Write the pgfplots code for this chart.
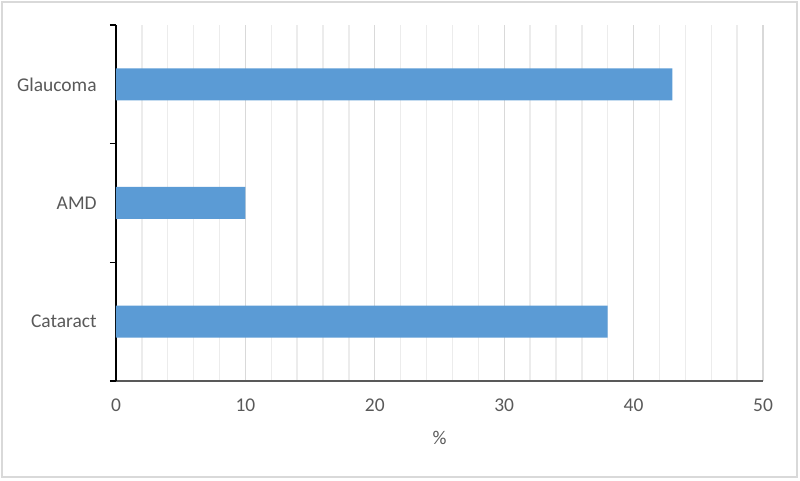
\documentclass[border=0pt]{standalone}
\usepackage{fontspec}
\setmainfont{Carlito}
\usepackage{pgfplots}
\pgfplotsset{compat=1.18}
\definecolor{barblue}{RGB}{91,155,213}
\definecolor{txtgray}{RGB}{89,89,89}
\definecolor{majgrid}{RGB}{217,217,217}
\definecolor{mingrid}{RGB}{236,236,236}
\definecolor{framegray}{RGB}{217,217,217}
\begin{document}
\begin{tikzpicture}
\useasboundingbox (0pt,0pt) rectangle (600pt,360.75pt);
\draw[framegray,line width=1.2pt] (1.5pt,3pt) rectangle (597.75pt,359.25pt);
\begin{axis}[
  at={(87pt,75pt)}, anchor=south west,
  scale only axis,
  width=485.25pt, height=267pt,
  xmin=0, xmax=50, ymin=-0.5, ymax=2.5,
  axis lines*=left,
  x axis line style={-, draw=black!65, line width=1.2pt},
  y axis line style={-, draw=black, line width=1.3pt},
  xtick={0,10,20,30,40,50},
  minor x tick num=4,
  xmajorgrids, xminorgrids,
  major grid style={majgrid, line width=1pt},
  minor grid style={mingrid, line width=1pt},
  x tick style={draw=none},
  ytick={-0.5,0.5,1.5,2.5},
  yticklabels={},
  y tick style={draw=black, line width=1pt},
  ytick align=outside,
  major tick length=4.5pt,
  extra y ticks={0,1,2},
  extra y tick labels={Cataract,AMD,Glaucoma},
  extra y tick style={major tick length=0pt, ytick align=inside, grid=none},
  tick label style={font=\fontsize{14.6}{17}\selectfont, text=txtgray},
  /pgf/number format/assume math mode=true,
  xticklabel style={yshift=-10pt},
  yticklabel style={xshift=-11pt},
  xlabel={\%},
  xlabel style={font=\fontsize{14.6}{17}\selectfont, text=txtgray, yshift=-8pt},
  clip=false,
]
\addplot[xbar, bar width=24pt, fill=barblue, draw=none] coordinates {(38,0) (10,1) (43,2)};
\end{axis}
\end{tikzpicture}
\end{document}
